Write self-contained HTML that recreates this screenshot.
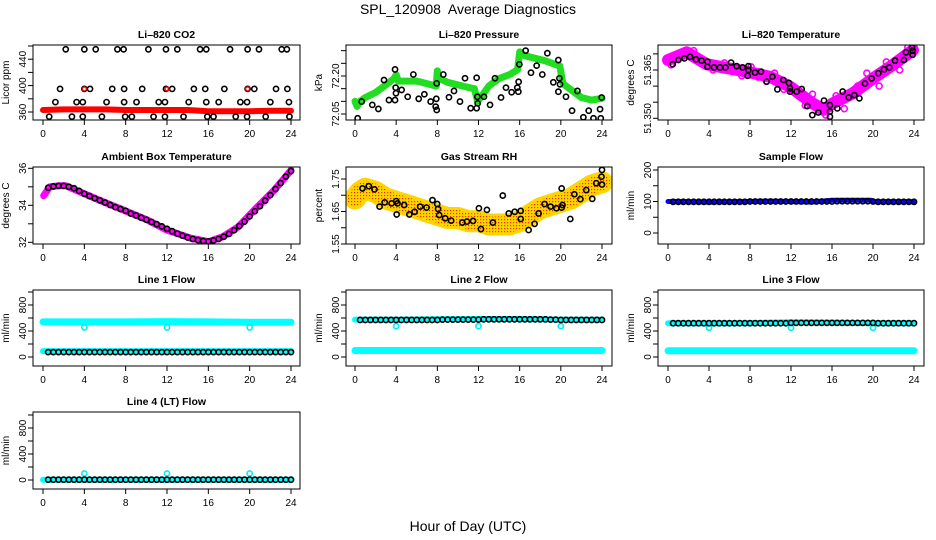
<!DOCTYPE html>
<html><head><meta charset="utf-8"><title>SPL_120908 Average Diagnostics</title>
<style>
html,body{margin:0;padding:0;background:#fff;}
svg{display:block;font-family:"Liberation Sans",Arial,sans-serif;}
</style></head>
<body>
<svg id="chart" width="936" height="540" viewBox="0 0 936 540" xmlns="http://www.w3.org/2000/svg">
<defs>
<pattern id="rhpat" width="3" height="3" patternUnits="userSpaceOnUse"><rect width="3" height="3" fill="#ffd400"/><rect width="1.2" height="1.2" fill="#e83000"/></pattern>
</defs>
<rect x="0" y="0" width="936" height="540" fill="#fff"/>
<text x="468" y="14" text-anchor="middle" font-size="14">SPL_120908&#160; Average Diagnostics</text>
<text x="468" y="531" text-anchor="middle" font-size="14">Hour of Day (UTC)</text>
</svg>
<script>
// ---------- data ----------
const xTickLabels=[0,4,8,12,16,20,24];
const halfHours=[0.5,1,1.5,2,2.5,3,3.5,4,4.5,5,5.5,6,6.5,7,7.5,8,8.5,9,9.5,10,10.5,11,11.5,12,12.5,13,13.5,14,14.5,15,15.5,16,16.5,17,17.5,18,18.5,19,19.5,20,20.5,21,21.5,22,22.5,23,23.5,24];

// Li-820 CO2
const co2BandHours=[0,2,4,6,8,10,12,14,16,18,20,22,24];
const co2BandVals=[363,364,364,364,363,363,363,363,361,361,361,362,362];
const co2PtHours=[2.2,4.0,5.1,7.2,7.8,10.2,11.9,13.0,15.2,15.8,18.1,19.8,20.9,23.1,23.6,
 1.65,4.0,4.55,6.7,7.85,9.6,11.9,12.5,14.6,15.7,17.55,19.8,20.45,22.55,23.65,
 1.2,3.25,3.85,6.15,7.85,9.05,11.2,11.8,14.1,15.8,17.0,19.1,19.75,22.0,23.8,
 0.6,2.8,3.85,5.7,7.95,8.6,10.7,11.8,13.6,15.9,16.5,18.65,19.75,21.55,23.85];
const co2PtVals=[455,455,455,455,455,455,455,455,455,455,455,455,455,455,455,
 395,395,395,395,395,395,395,395,395,395,395,395,395,395,395,
 375,375,375,375,375,375,375,375,375,375,375,375,375,375,375,
 353,353,353,353,353,353,353,353,353,353,353,353,353,353,353];
const co2RedHours=[4.0,12.0,19.8];
const co2RedVals=[395,395,395];

// Li-820 Pressure
const presBandHours=[0,0.2,0.5,1,2,3,3.8,4.0,4.2,5,6,7,7.9,8.0,8.2,9,10,11,11.6,11.9,12.3,13,14,15,15.8,16.0,16.5,17.5,18.5,19.5,19.9,20.2,21,22,23,24];
const presBandVals=[72.10,72.08,72.10,72.115,72.135,72.165,72.19,72.205,72.18,72.18,72.18,72.17,72.16,72.22,72.19,72.175,72.165,72.155,72.15,72.10,72.12,72.16,72.19,72.205,72.225,72.295,72.28,72.27,72.26,72.245,72.24,72.17,72.145,72.115,72.105,72.112];
const presPtHours=[0.65,0.26,1.68,2.27,2.82,3.3,3.89,3.89,3.95,3.98,4.53,5.12,5.67,6.19,6.74,7.35,7.84,7.9,7.94,7.94,8.58,9.13,9.62,10.2,10.69,11.24,11.82,11.82,11.89,11.92,12.53,13.12,13.6,14.19,14.67,15.22,15.77,15.87,15.9,15.97,16.58,17.1,17.65,18.2,18.69,19.27,19.76,19.86,19.92,19.76,20.5,21.09,21.61,22.19,22.71,23.17,23.81,23.88,23.97];
const presPtVals=[72.099,72.033,72.086,72.070,72.184,72.105,72.105,72.226,72.154,72.132,72.145,72.118,72.206,72.110,72.128,72.099,72.079,72.110,72.066,72.171,72.206,72.116,72.141,72.099,72.191,72.073,72.073,72.193,72.118,72.092,72.118,72.086,72.191,72.115,72.154,72.136,72.154,72.138,72.177,72.246,72.300,72.213,72.241,72.206,72.290,72.175,72.263,72.191,72.167,72.138,72.118,72.063,72.141,72.037,72.063,72.033,72.069,72.033,72.115];

// Li-820 Temperature
const tempBandHours=[0,1.82,3.77,5.07,7.67,9.95,11.9,13.85,15.15,16.1,18.05,20.0,21.95,23.9];
const tempBandVals=[51.3681,51.3705,51.3668,51.3660,51.3645,51.3629,51.3598,51.3552,51.3526,51.3547,51.3578,51.3624,51.3666,51.3712];
const tempScatHours=[0.3,1.2,2.5,3.3,4.4,5.5,6.3,7.2,8.1,8.8,9.6,10.4,11.3,12.2,12.8,13.4,14.1,14.7,15.4,16.4,17.2,18.5,19.4,20.6,21.3,22.6,23.4];
const tempScatVals=[51.3666,51.3700,51.3710,51.3676,51.3650,51.3672,51.3645,51.3632,51.3660,51.3628,51.3615,51.3640,51.3590,51.3585,51.3568,51.3540,51.3575,51.3535,51.3510,51.3570,51.3530,51.3600,51.3640,51.3600,51.3675,51.3650,51.3720];
const tempPtHours=[0.46,1.01,1.6,2.15,2.73,3.28,3.84,3.84,4.49,5.07,5.6,6.15,6.7,7.28,7.84,7.84,7.77,8.49,9.07,9.63,10.18,10.67,11.25,11.8,11.9,11.9,12.55,13.04,13.59,14.08,14.67,15.22,15.8,15.8,15.8,16.52,17.04,17.63,18.18,18.67,19.22,19.87,20.52,21.07,21.59,22.15,23.02,23.22,23.81,23.87,23.87];
const tempPtVals=[51.3668,51.3681,51.3686,51.3691,51.3683,51.3679,51.3676,51.3660,51.3658,51.3658,51.3658,51.3673,51.3662,51.3658,51.3662,51.3650,51.3632,51.3642,51.3645,51.3614,51.3629,51.3590,51.3619,51.3610,51.3593,51.3583,51.3583,51.3591,51.3538,51.3510,51.3518,51.3555,51.3541,51.3521,51.3505,51.3531,51.3583,51.3565,51.3572,51.3562,51.3608,51.3624,51.3640,51.3652,51.3658,51.3679,51.3681,51.3705,51.3720,51.3710,51.3697];

// Ambient Box Temperature
const ambBandHours=[0.07,0.65,1.6,2.2,3.9,5.84,7.76,10.07,11.99,14.3,16.04,17.38,18.9,20.46,22.4,24.0];
const ambBandVals=[34.52,35.0,35.06,35.06,34.65,34.19,33.75,33.21,32.66,32.22,32.03,32.30,32.84,33.75,34.83,35.9];
const ambPtVals=[34.95,35.02,35.05,35.05,35.0,34.92,34.78,34.62,34.5,34.38,34.27,34.15,34.02,33.9,33.8,33.7,33.55,33.45,33.33,33.22,33.1,32.98,32.86,32.73,32.6,32.47,32.36,32.26,32.18,32.12,32.07,32.05,32.1,32.18,32.3,32.45,32.65,32.88,33.12,33.4,33.68,33.95,34.25,34.55,34.88,35.2,35.55,35.85];

// Gas Stream RH
const rhBandHours=[0,0.5,1,2,3,4,5,6,7,8,9,10,11,12,13,14,15,16,17,18,19,20,21,22,23,24];
const rhBandVals=[1.69,1.71,1.72,1.71,1.69,1.68,1.67,1.66,1.65,1.64,1.63,1.63,1.62,1.62,1.61,1.61,1.61,1.62,1.64,1.66,1.67,1.68,1.69,1.71,1.73,1.74];
const rhPtHours=[0.73,1.34,1.89,2.39,2.89,3.55,4.01,4.13,4.05,4.78,5.28,5.79,6.33,6.95,7.53,7.99,8.07,8.18,8.76,9.34,10.42,10.88,11.47,12.04,12.24,12.82,13.4,14.36,14.94,15.52,16.1,16.1,16.87,17.45,17.84,18.42,19.0,19.57,20.08,20.16,20.08,20.92,21.31,21.9,22.47,23.05,23.44,24.0,23.95,24.0];
const rhPtVals=[1.721,1.728,1.718,1.665,1.678,1.675,1.682,1.675,1.641,1.670,1.641,1.649,1.665,1.662,1.685,1.673,1.658,1.639,1.629,1.622,1.616,1.619,1.621,1.660,1.596,1.655,1.616,1.699,1.644,1.649,1.652,1.627,1.593,1.612,1.644,1.673,1.665,1.660,1.662,1.670,1.721,1.627,1.703,1.688,1.716,1.689,1.737,1.778,1.757,1.733];

// Sample Flow
const sampleBandHours=[0,4,8,10,12,14,16,18,19.8,20,24];
const sampleBandVals=[100,98,100,101,100,98,104,104,104,99,99];
const sampleBlackVals=[99,99,99,99,99,99,99,99,99,99,99,99,99,99,99,100,100,100,100,100,100,100,100,100,100,100,100,100,100,100,100,100,101,101,101,101,101,101,101,100,99,99,99,99,99,99,99,99];

// Line 1 Flow
const l1HighHours=[0,4,8,12,16,20,24];
const l1HighVals=[540,540,540,545,540,535,535];
const l1LowHours=[0,24];
const l1LowVals=[90,90];
const l1DipHours=[4,12,20];
const l1DipVals=[455,455,455];
const l1BlackVals=[75,75,75,75,75,75,75,75,75,75,75,75,75,75,75,75,75,75,75,75,75,75,75,75,75,75,75,75,75,75,75,75,75,75,75,75,75,75,75,75,75,75,75,75,75,75,75,75];

// Line 2 Flow
const l2HighHours=[0,4,8,12,16,20,24];
const l2HighVals=[575,575,580,585,585,575,575];
const l2LowHours=[0,24];
const l2LowVals=[100,100];
const l2DipHours=[4,12,20];
const l2DipVals=[475,475,475];
const l2BlackVals=[570,570,570,570,570,570,570,570,570,570,570,570,570,570,570,570,575,575,575,575,575,575,575,575,580,580,580,580,580,580,580,580,580,580,580,580,580,575,575,570,570,570,570,570,570,570,570,570];

// Line 3 Flow
const l3HighHours=[0,4,8,12,16,20,24];
const l3HighVals=[520,515,520,535,530,520,520];
const l3LowHours=[0,24];
const l3LowVals=[95,95];
const l3DipHours=[4,12,20];
const l3DipVals=[450,450,450];
const l3BlackVals=[520,520,520,520,520,520,520,520,520,520,520,520,520,520,520,520,520,520,520,520,520,520,520,525,525,525,525,525,525,525,525,525,525,525,525,525,525,525,525,525,520,520,520,520,520,520,520,520];

// Line 4 Flow
const l4CyanHours=[0,24];
const l4CyanVals=[5,5];
const l4DipHours=[4,12,20];
const l4DipVals=[100,100,100];
const l4BlackVals=[5,5,5,5,5,5,5,5,5,5,5,5,5,5,5,5,5,5,5,5,5,5,5,5,5,5,5,5,5,5,5,5,5,5,5,5,5,5,5,5,5,5,5,5,5,5,5,5];

// ---------- layout ----------
const NS="http://www.w3.org/2000/svg";
const svg=document.getElementById('chart');
const COLS=[{b0:33,b1:300,h0:43,h24:291},{b0:346,b1:612,h0:355,h24:602},{b0:658,b1:924,h0:668,h24:914}];
const ROWS=[{top:45,bot:120},{top:167,bot:244},{top:290,bot:366},{top:412,bot:489}];

function el(tag,attrs,parent){const e=document.createElementNS(NS,tag);for(const k in attrs)e.setAttribute(k,attrs[k]);(parent||svg).appendChild(e);return e;}

function makePanel(name,title,ytitle,col,row,v1,p1,v2,p2,ticks,labels,dec){
  const C=COLS[col],R=ROWS[row];
  const g=el('g',{});
  
  
  const xs=h=>C.h0+(h/24)*(C.h24-C.h0);
  const ys=v=>p1+(v-v1)*(p2-p1)/(v2-v1);
  const t=el('text',{x:(C.b0+C.b1)/2,y:R.top-7,'text-anchor':'middle','font-size':10.5,'font-weight':'bold'},g);
  t.textContent=title;
  
  
  const clipId='clip'+col+'_'+row;
  const cp=el('clipPath',{id:clipId},svg);
  el('rect',{x:C.b0,y:R.top,width:C.b1-C.b0,height:R.bot-R.top},cp);
  const data=el('g',{'clip-path':`url(#${clipId})`},g);
  
  
  const box=el('rect',{x:C.b0,y:R.top,width:C.b1-C.b0,height:R.bot-R.top,fill:'none',stroke:'#000','stroke-width':1},g);
  
  
  const xa=el('g',{},g);
  
  
  xTickLabels.forEach(h=>{
    el('line',{x1:xs(h),x2:xs(h),y1:R.bot,y2:R.bot+5,stroke:'#000'},xa);
    const tl=el('text',{x:xs(h),y:R.bot+17,'text-anchor':'middle','font-size':10},xa);
    tl.textContent=h;
    
    
  });
  const ya=el('g',{},g);
  
  
  ticks.forEach(v=>{
    el('line',{x1:C.b0-5,x2:C.b0,y1:ys(v),y2:ys(v),stroke:'#000'},ya);
  });
  labels.forEach(v=>{
    const x=C.b0-7,y=ys(v);
    const tl=el('text',{x:x,y:y,'text-anchor':'middle','font-size':10,transform:`rotate(-90 ${x} ${y})`},ya);
    tl.textContent=v.toFixed(dec);
    
    
  });
  const yt=el('text',{x:C.b0-24,y:(R.top+R.bot)/2,'text-anchor':'middle','font-size':10,transform:`rotate(-90 ${C.b0-24} ${(R.top+R.bot)/2})`},g);
  yt.textContent=ytitle;
  
  
  return {xs,ys,g:data};
}
function band(P,hours,vals,color,w,name){
  const pts=hours.map((h,i)=>P.xs(h).toFixed(1)+','+P.ys(vals[i]).toFixed(1)).join(' ');
  const pl=el('polyline',{points:pts,fill:'none',stroke:color,'stroke-width':w,'stroke-linejoin':'round','stroke-linecap':'round'},P.g);
  
  
}
function points(P,hours,vals,color,name,r,sw){
  hours.forEach((h,i)=>{
    const c=el('circle',{cx:P.xs(h),cy:P.ys(vals[i]),r:r||2.6,fill:'none',stroke:color,'stroke-width':sw||1.6},P.g);
    
    
  });
}
const fT=[0,200,400,600,800,1000],fL=[0,400,800];

// Row 1
let P=makePanel('co2-panel','Li\u2013820 CO2','Licor ppm',0,0,360,112,460,46,[360,380,400,420,440,460],[360,400,440],0);
band(P,co2BandHours,co2BandVals,'#ff0000',6,'co2-series-band');
points(P,co2PtHours,co2PtVals,'#000','co2-hourly-point');
points(P,co2RedHours,co2RedVals,'#ff0000','co2-red-point',2,1.4);

P=makePanel('pressure-panel','Li\u2013820 Pressure','kPa',1,0,72.05,114,72.20,76,[72.05,72.10,72.15,72.20,72.25,72.30],[72.05,72.20],2);
band(P,presBandHours,presBandVals,'#22dd22',7,'pressure-series-band');
points(P,presPtHours,presPtVals,'#000','pressure-hourly-point');

P=makePanel('temperature-panel','Li\u2013820 Temperature','degrees C',2,0,51.35,118.3,51.365,70,[51.350,51.355,51.360,51.365,51.370],[51.350,51.365],3);
band(P,tempBandHours,tempBandVals,'#ff00ff',12,'temperature-series-band');
points(P,tempScatHours,tempScatVals,'#ff00ff','temperature-scatter-point',3,1.6);
points(P,tempPtHours,tempPtVals,'#000','temperature-hourly-point');

// Row 2
P=makePanel('ambient-panel','Ambient Box Temperature','degrees C',0,1,32,242.3,36,168.3,[32,33,34,35,36],[32,34,36],0);
band(P,ambBandHours,ambBandVals,'#ff00ff',7,'ambient-series-band');
points(P,halfHours,ambPtVals,'#000','ambient-hourly-point');

P=makePanel('rh-panel','Gas Stream RH','percent',1,1,1.65,211.5,1.75,179,[1.55,1.60,1.65,1.70,1.75],[1.55,1.65,1.75],2);
band(P,rhBandHours,rhBandVals,'#ffd400',22,'rh-series-band');
band(P,rhBandHours,rhBandVals,'url(#rhpat)',16,'rh-series-texture');
points(P,rhPtHours,rhPtVals,'#000','rh-hourly-point');

P=makePanel('sample-flow-panel','Sample Flow','ml/min',2,1,0,233,200,170,[0,50,100,150,200],[0,100,200],0);
band(P,sampleBandHours,sampleBandVals,'#0000ff',5,'sample-flow-band');
points(P,halfHours,sampleBlackVals,'#000','sample-flow-point');

// Row 3
P=makePanel('line1-flow-panel','Line 1 Flow','ml/min',0,2,0,357,1000,292,fT,fL,0);
band(P,l1HighHours,l1HighVals,'#00ffff',7,'line1-high-band');
band(P,l1LowHours,l1LowVals,'#00ffff',6,'line1-low-band');
points(P,l1DipHours,l1DipVals,'#00eeee','line1-dip-point');
points(P,halfHours,l1BlackVals,'#000','line1-black-point');

P=makePanel('line2-flow-panel','Line 2 Flow','ml/min',1,2,0,357,1000,292,fT,fL,0);
band(P,l2HighHours,l2HighVals,'#00ffff',6,'line2-high-band');
band(P,l2LowHours,l2LowVals,'#00ffff',7,'line2-low-band');
points(P,l2DipHours,l2DipVals,'#00eeee','line2-dip-point');
points(P,halfHours,l2BlackVals,'#000','line2-black-point');

P=makePanel('line3-flow-panel','Line 3 Flow','ml/min',2,2,0,357,1000,292,fT,fL,0);
band(P,l3HighHours,l3HighVals,'#00ffff',6,'line3-high-band');
band(P,l3LowHours,l3LowVals,'#00ffff',7,'line3-low-band');
points(P,l3DipHours,l3DipVals,'#00eeee','line3-dip-point');
points(P,halfHours,l3BlackVals,'#000','line3-black-point');

// Row 4
P=makePanel('line4-flow-panel','Line 4 (LT) Flow','ml/min',0,3,0,480,1000,415,fT,fL,0);
band(P,l4CyanHours,l4CyanVals,'#00ffff',6,'line4-band');
points(P,l4DipHours,l4DipVals,'#00eeee','line4-dip-point');
points(P,halfHours,l4BlackVals,'#000','line4-black-point');
</script>
</body></html>
